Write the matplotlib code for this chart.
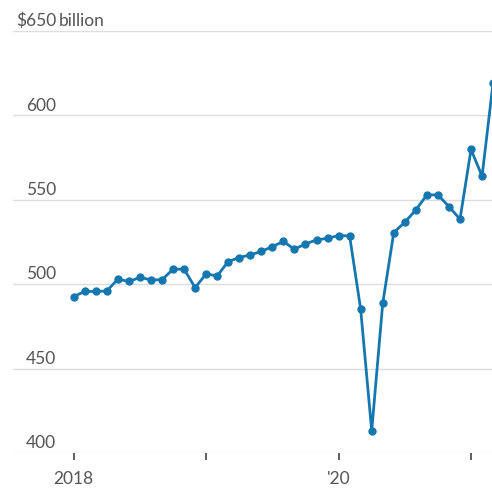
import matplotlib.pyplot as plt
import matplotlib.transforms as mtransforms

# monthly values, Jan 2018 .. Mar 2021 ($ billion)
values = [
    492.7, 495.7, 495.7, 496.0, 503.0, 501.6, 504.0, 502.6, 502.6, 508.9, 508.9, 498.0,
    506.1, 504.9, 513.4, 515.8, 517.4, 519.4, 522.3, 525.3, 520.7, 523.9, 526.2, 527.2,
    528.8, 528.6, 485.2, 413.1, 488.7, 530.6, 536.7, 544.0, 552.9, 552.9, 546.0, 538.5,
    579.8, 564.0, 619.4,
]
months = list(range(len(values)))

y_ticks = [400, 450, 500, 550, 600, 650]
y_labels = ['400', '450', '500', '550', '600', '$650']
x_ticks = [0, 12, 24, 36]
x_labels = ['2018', '', "'20", '']

line_color = '#1577b0'
text_color = '#555555'
plt.rcParams['font.family'] = ['Lato', 'DejaVu Sans']

fig = plt.figure(figsize=(4.92, 4.89), dpi=100)
ax = fig.add_axes([13 / 492, 35 / 489, 479 / 492, 422 / 489])

ax.plot(months, values, color=line_color, linewidth=2.0, marker='o',
        markersize=5, clip_on=False, zorder=3)

ax.set_xlim(-5.5, 37.9)
ax.set_ylim(400, 650)

ax.set_yticks(y_ticks)
ax.set_yticklabels([])
ax.grid(axis='y', color='#dddddd', linewidth=1.0, zorder=0)
ax.tick_params(axis='y', length=0)

ax.set_xticks(x_ticks)
ax.set_xticklabels(x_labels, fontsize=12.5, color=text_color)
ax.tick_params(axis='x', length=5, width=1.2, color='#444444', pad=7, direction='out')

for s in ax.spines.values():
    s.set_visible(False)

trans = mtransforms.blended_transform_factory(ax.transAxes, ax.transData)
for v, lab in zip(y_ticks, y_labels):
    ax.annotate(lab, (43 / 479, v), xycoords=trans, xytext=(0, 2),
                textcoords='offset points', ha='right', va='bottom',
                fontsize=12.5, color=text_color, annotation_clip=False)
ax.annotate('billion', (46 / 479, 650), xycoords=trans, xytext=(0, 2),
            textcoords='offset points', ha='left', va='bottom',
            fontsize=12.5, color=text_color, annotation_clip=False)

fig.savefig('out.png', dpi=100)
